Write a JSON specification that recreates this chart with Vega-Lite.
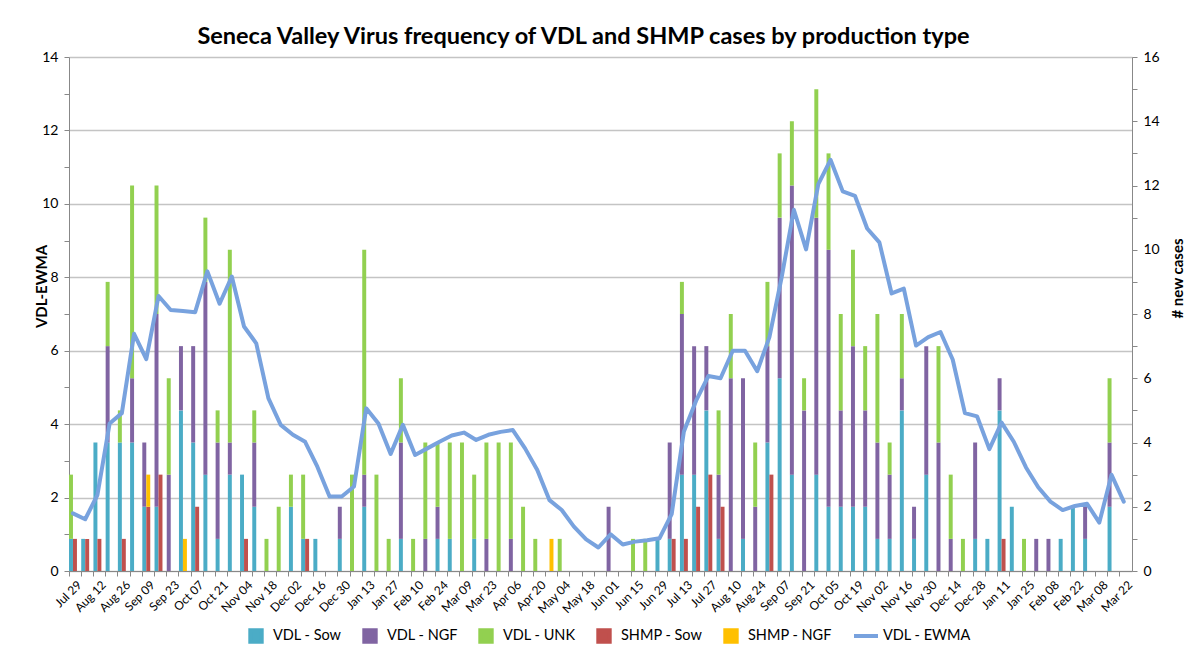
{
  "$schema": "https://vega.github.io/schema/vega-lite/v6.json",
  "width": 1063,
  "height": 514,
  "autosize": {"type": "none"},
  "padding": {"left": 69, "top": 57, "right": 58, "bottom": 83},
  "background": "white",
  "config": {
    "view": {"stroke": null},
    "font": "Lato",
    "axis": {"labelFont": "Lato", "labelColor": "#000", "titleFont": "Lato", "titleColor": "#000", "domainColor": "#888", "tickColor": "#888", "tickSize": 5, "gridColor": "#c4c4c4", "gridWidth": 1.5}
  },
  "title": {"text": "Seneca Valley Virus frequency of VDL and SHMP cases by production type", "font": "Lato", "fontSize": 23.5, "fontWeight": "bold", "color": "#000", "anchor": "middle", "frame": "group", "dx": -17, "offset": 2},
  "datasets": {
    "bars": [
      {"w":"2015-07-29","s":"VDL","t":"VDL - Sow","k":1,"n":1},{"w":"2015-07-29","s":"VDL","t":"VDL - UNK","k":3,"n":2},{"w":"2015-07-29","s":"SHMP","t":"SHMP - Sow","k":1,"n":1},
      {"w":"2015-08-05","s":"VDL","t":"VDL - Sow","k":1,"n":1},{"w":"2015-08-05","s":"SHMP","t":"SHMP - Sow","k":1,"n":1},
      {"w":"2015-08-12","s":"VDL","t":"VDL - Sow","k":1,"n":4},{"w":"2015-08-12","s":"SHMP","t":"SHMP - Sow","k":1,"n":1},
      {"w":"2015-08-19","s":"VDL","t":"VDL - Sow","k":1,"n":4},{"w":"2015-08-19","s":"VDL","t":"VDL - NGF","k":2,"n":3},{"w":"2015-08-19","s":"VDL","t":"VDL - UNK","k":3,"n":2},
      {"w":"2015-08-26","s":"VDL","t":"VDL - Sow","k":1,"n":4},{"w":"2015-08-26","s":"VDL","t":"VDL - UNK","k":3,"n":1},{"w":"2015-08-26","s":"SHMP","t":"SHMP - Sow","k":1,"n":1},
      {"w":"2015-09-02","s":"VDL","t":"VDL - Sow","k":1,"n":4},{"w":"2015-09-02","s":"VDL","t":"VDL - NGF","k":2,"n":2},{"w":"2015-09-02","s":"VDL","t":"VDL - UNK","k":3,"n":6},
      {"w":"2015-09-09","s":"VDL","t":"VDL - Sow","k":1,"n":2},{"w":"2015-09-09","s":"VDL","t":"VDL - NGF","k":2,"n":2},{"w":"2015-09-09","s":"SHMP","t":"SHMP - Sow","k":1,"n":2},{"w":"2015-09-09","s":"SHMP","t":"SHMP - NGF","k":2,"n":1},
      {"w":"2015-09-16","s":"VDL","t":"VDL - Sow","k":1,"n":2},{"w":"2015-09-16","s":"VDL","t":"VDL - NGF","k":2,"n":6},{"w":"2015-09-16","s":"VDL","t":"VDL - UNK","k":3,"n":4},{"w":"2015-09-16","s":"SHMP","t":"SHMP - Sow","k":1,"n":3},
      {"w":"2015-09-23","s":"VDL","t":"VDL - NGF","k":2,"n":3},{"w":"2015-09-23","s":"VDL","t":"VDL - UNK","k":3,"n":3},
      {"w":"2015-09-30","s":"VDL","t":"VDL - Sow","k":1,"n":5},{"w":"2015-09-30","s":"VDL","t":"VDL - NGF","k":2,"n":2},{"w":"2015-09-30","s":"SHMP","t":"SHMP - NGF","k":2,"n":1},
      {"w":"2015-10-07","s":"VDL","t":"VDL - Sow","k":1,"n":4},{"w":"2015-10-07","s":"VDL","t":"VDL - NGF","k":2,"n":3},{"w":"2015-10-07","s":"SHMP","t":"SHMP - Sow","k":1,"n":2},
      {"w":"2015-10-14","s":"VDL","t":"VDL - Sow","k":1,"n":3},{"w":"2015-10-14","s":"VDL","t":"VDL - NGF","k":2,"n":6},{"w":"2015-10-14","s":"VDL","t":"VDL - UNK","k":3,"n":2},
      {"w":"2015-10-21","s":"VDL","t":"VDL - Sow","k":1,"n":1},{"w":"2015-10-21","s":"VDL","t":"VDL - NGF","k":2,"n":3},{"w":"2015-10-21","s":"VDL","t":"VDL - UNK","k":3,"n":1},
      {"w":"2015-10-28","s":"VDL","t":"VDL - Sow","k":1,"n":3},{"w":"2015-10-28","s":"VDL","t":"VDL - NGF","k":2,"n":1},{"w":"2015-10-28","s":"VDL","t":"VDL - UNK","k":3,"n":6},
      {"w":"2015-11-04","s":"VDL","t":"VDL - Sow","k":1,"n":3},{"w":"2015-11-04","s":"SHMP","t":"SHMP - Sow","k":1,"n":1},
      {"w":"2015-11-11","s":"VDL","t":"VDL - Sow","k":1,"n":2},{"w":"2015-11-11","s":"VDL","t":"VDL - NGF","k":2,"n":2},{"w":"2015-11-11","s":"VDL","t":"VDL - UNK","k":3,"n":1},
      {"w":"2015-11-18","s":"VDL","t":"VDL - UNK","k":3,"n":1},
      {"w":"2015-11-25","s":"VDL","t":"VDL - UNK","k":3,"n":2},
      {"w":"2015-12-02","s":"VDL","t":"VDL - Sow","k":1,"n":2},{"w":"2015-12-02","s":"VDL","t":"VDL - UNK","k":3,"n":1},
      {"w":"2015-12-09","s":"VDL","t":"VDL - Sow","k":1,"n":1},{"w":"2015-12-09","s":"VDL","t":"VDL - UNK","k":3,"n":2},{"w":"2015-12-09","s":"SHMP","t":"SHMP - Sow","k":1,"n":1},
      {"w":"2015-12-16","s":"VDL","t":"VDL - Sow","k":1,"n":1},
      {"w":"2015-12-30","s":"VDL","t":"VDL - Sow","k":1,"n":1},{"w":"2015-12-30","s":"VDL","t":"VDL - NGF","k":2,"n":1},
      {"w":"2016-01-06","s":"VDL","t":"VDL - UNK","k":3,"n":3},
      {"w":"2016-01-13","s":"VDL","t":"VDL - Sow","k":1,"n":2},{"w":"2016-01-13","s":"VDL","t":"VDL - NGF","k":2,"n":1},{"w":"2016-01-13","s":"VDL","t":"VDL - UNK","k":3,"n":7},
      {"w":"2016-01-20","s":"VDL","t":"VDL - UNK","k":3,"n":3},
      {"w":"2016-01-27","s":"VDL","t":"VDL - UNK","k":3,"n":1},
      {"w":"2016-02-03","s":"VDL","t":"VDL - Sow","k":1,"n":1},{"w":"2016-02-03","s":"VDL","t":"VDL - NGF","k":2,"n":3},{"w":"2016-02-03","s":"VDL","t":"VDL - UNK","k":3,"n":2},
      {"w":"2016-02-10","s":"VDL","t":"VDL - UNK","k":3,"n":1},
      {"w":"2016-02-17","s":"VDL","t":"VDL - NGF","k":2,"n":1},{"w":"2016-02-17","s":"VDL","t":"VDL - UNK","k":3,"n":3},
      {"w":"2016-02-24","s":"VDL","t":"VDL - Sow","k":1,"n":1},{"w":"2016-02-24","s":"VDL","t":"VDL - NGF","k":2,"n":1},{"w":"2016-02-24","s":"VDL","t":"VDL - UNK","k":3,"n":2},
      {"w":"2016-03-02","s":"VDL","t":"VDL - Sow","k":1,"n":1},{"w":"2016-03-02","s":"VDL","t":"VDL - UNK","k":3,"n":3},
      {"w":"2016-03-09","s":"VDL","t":"VDL - UNK","k":3,"n":4},
      {"w":"2016-03-16","s":"VDL","t":"VDL - Sow","k":1,"n":1},{"w":"2016-03-16","s":"VDL","t":"VDL - UNK","k":3,"n":2},
      {"w":"2016-03-23","s":"VDL","t":"VDL - NGF","k":2,"n":1},{"w":"2016-03-23","s":"VDL","t":"VDL - UNK","k":3,"n":3},
      {"w":"2016-03-30","s":"VDL","t":"VDL - UNK","k":3,"n":4},
      {"w":"2016-04-06","s":"VDL","t":"VDL - NGF","k":2,"n":1},{"w":"2016-04-06","s":"VDL","t":"VDL - UNK","k":3,"n":3},
      {"w":"2016-04-13","s":"VDL","t":"VDL - UNK","k":3,"n":2},
      {"w":"2016-04-20","s":"VDL","t":"VDL - UNK","k":3,"n":1},
      {"w":"2016-04-27","s":"SHMP","t":"SHMP - NGF","k":2,"n":1},
      {"w":"2016-05-04","s":"VDL","t":"VDL - UNK","k":3,"n":1},
      {"w":"2016-06-01","s":"VDL","t":"VDL - NGF","k":2,"n":2},
      {"w":"2016-06-15","s":"VDL","t":"VDL - UNK","k":3,"n":1},
      {"w":"2016-06-22","s":"VDL","t":"VDL - UNK","k":3,"n":1},
      {"w":"2016-06-29","s":"VDL","t":"VDL - Sow","k":1,"n":1},
      {"w":"2016-07-06","s":"VDL","t":"VDL - Sow","k":1,"n":1},{"w":"2016-07-06","s":"VDL","t":"VDL - NGF","k":2,"n":3},{"w":"2016-07-06","s":"SHMP","t":"SHMP - Sow","k":1,"n":1},
      {"w":"2016-07-13","s":"VDL","t":"VDL - Sow","k":1,"n":3},{"w":"2016-07-13","s":"VDL","t":"VDL - NGF","k":2,"n":5},{"w":"2016-07-13","s":"VDL","t":"VDL - UNK","k":3,"n":1},{"w":"2016-07-13","s":"SHMP","t":"SHMP - Sow","k":1,"n":1},
      {"w":"2016-07-20","s":"VDL","t":"VDL - Sow","k":1,"n":3},{"w":"2016-07-20","s":"VDL","t":"VDL - NGF","k":2,"n":4},{"w":"2016-07-20","s":"SHMP","t":"SHMP - Sow","k":1,"n":2},
      {"w":"2016-07-27","s":"VDL","t":"VDL - Sow","k":1,"n":5},{"w":"2016-07-27","s":"VDL","t":"VDL - NGF","k":2,"n":2},{"w":"2016-07-27","s":"SHMP","t":"SHMP - Sow","k":1,"n":3},
      {"w":"2016-08-03","s":"VDL","t":"VDL - Sow","k":1,"n":1},{"w":"2016-08-03","s":"VDL","t":"VDL - NGF","k":2,"n":2},{"w":"2016-08-03","s":"VDL","t":"VDL - UNK","k":3,"n":2},{"w":"2016-08-03","s":"SHMP","t":"SHMP - Sow","k":1,"n":2},
      {"w":"2016-08-10","s":"VDL","t":"VDL - NGF","k":2,"n":6},{"w":"2016-08-10","s":"VDL","t":"VDL - UNK","k":3,"n":2},
      {"w":"2016-08-17","s":"VDL","t":"VDL - Sow","k":1,"n":1},{"w":"2016-08-17","s":"VDL","t":"VDL - NGF","k":2,"n":5},
      {"w":"2016-08-24","s":"VDL","t":"VDL - NGF","k":2,"n":2},{"w":"2016-08-24","s":"VDL","t":"VDL - UNK","k":3,"n":2},
      {"w":"2016-08-31","s":"VDL","t":"VDL - Sow","k":1,"n":4},{"w":"2016-08-31","s":"VDL","t":"VDL - NGF","k":2,"n":3},{"w":"2016-08-31","s":"VDL","t":"VDL - UNK","k":3,"n":2},{"w":"2016-08-31","s":"SHMP","t":"SHMP - Sow","k":1,"n":3},
      {"w":"2016-09-07","s":"VDL","t":"VDL - Sow","k":1,"n":6},{"w":"2016-09-07","s":"VDL","t":"VDL - NGF","k":2,"n":5},{"w":"2016-09-07","s":"VDL","t":"VDL - UNK","k":3,"n":2},
      {"w":"2016-09-14","s":"VDL","t":"VDL - Sow","k":1,"n":3},{"w":"2016-09-14","s":"VDL","t":"VDL - NGF","k":2,"n":9},{"w":"2016-09-14","s":"VDL","t":"VDL - UNK","k":3,"n":2},
      {"w":"2016-09-21","s":"VDL","t":"VDL - NGF","k":2,"n":5},{"w":"2016-09-21","s":"VDL","t":"VDL - UNK","k":3,"n":1},
      {"w":"2016-09-28","s":"VDL","t":"VDL - Sow","k":1,"n":3},{"w":"2016-09-28","s":"VDL","t":"VDL - NGF","k":2,"n":8},{"w":"2016-09-28","s":"VDL","t":"VDL - UNK","k":3,"n":4},
      {"w":"2016-10-05","s":"VDL","t":"VDL - Sow","k":1,"n":2},{"w":"2016-10-05","s":"VDL","t":"VDL - NGF","k":2,"n":8},{"w":"2016-10-05","s":"VDL","t":"VDL - UNK","k":3,"n":3},
      {"w":"2016-10-12","s":"VDL","t":"VDL - Sow","k":1,"n":2},{"w":"2016-10-12","s":"VDL","t":"VDL - NGF","k":2,"n":3},{"w":"2016-10-12","s":"VDL","t":"VDL - UNK","k":3,"n":3},
      {"w":"2016-10-19","s":"VDL","t":"VDL - Sow","k":1,"n":2},{"w":"2016-10-19","s":"VDL","t":"VDL - NGF","k":2,"n":5},{"w":"2016-10-19","s":"VDL","t":"VDL - UNK","k":3,"n":3},
      {"w":"2016-10-26","s":"VDL","t":"VDL - Sow","k":1,"n":2},{"w":"2016-10-26","s":"VDL","t":"VDL - NGF","k":2,"n":3},{"w":"2016-10-26","s":"VDL","t":"VDL - UNK","k":3,"n":2},
      {"w":"2016-11-02","s":"VDL","t":"VDL - Sow","k":1,"n":1},{"w":"2016-11-02","s":"VDL","t":"VDL - NGF","k":2,"n":3},{"w":"2016-11-02","s":"VDL","t":"VDL - UNK","k":3,"n":4},
      {"w":"2016-11-09","s":"VDL","t":"VDL - Sow","k":1,"n":1},{"w":"2016-11-09","s":"VDL","t":"VDL - NGF","k":2,"n":2},{"w":"2016-11-09","s":"VDL","t":"VDL - UNK","k":3,"n":1},
      {"w":"2016-11-16","s":"VDL","t":"VDL - Sow","k":1,"n":5},{"w":"2016-11-16","s":"VDL","t":"VDL - NGF","k":2,"n":1},{"w":"2016-11-16","s":"VDL","t":"VDL - UNK","k":3,"n":2},
      {"w":"2016-11-23","s":"VDL","t":"VDL - Sow","k":1,"n":1},{"w":"2016-11-23","s":"VDL","t":"VDL - NGF","k":2,"n":1},
      {"w":"2016-11-30","s":"VDL","t":"VDL - Sow","k":1,"n":3},{"w":"2016-11-30","s":"VDL","t":"VDL - NGF","k":2,"n":4},
      {"w":"2016-12-07","s":"VDL","t":"VDL - NGF","k":2,"n":4},{"w":"2016-12-07","s":"VDL","t":"VDL - UNK","k":3,"n":3},
      {"w":"2016-12-14","s":"VDL","t":"VDL - NGF","k":2,"n":1},{"w":"2016-12-14","s":"VDL","t":"VDL - UNK","k":3,"n":2},
      {"w":"2016-12-21","s":"VDL","t":"VDL - UNK","k":3,"n":1},
      {"w":"2016-12-28","s":"VDL","t":"VDL - Sow","k":1,"n":1},{"w":"2016-12-28","s":"VDL","t":"VDL - NGF","k":2,"n":3},
      {"w":"2017-01-04","s":"VDL","t":"VDL - Sow","k":1,"n":1},
      {"w":"2017-01-11","s":"VDL","t":"VDL - Sow","k":1,"n":5},{"w":"2017-01-11","s":"VDL","t":"VDL - NGF","k":2,"n":1},{"w":"2017-01-11","s":"SHMP","t":"SHMP - Sow","k":1,"n":1},
      {"w":"2017-01-18","s":"VDL","t":"VDL - Sow","k":1,"n":2},
      {"w":"2017-01-25","s":"VDL","t":"VDL - UNK","k":3,"n":1},
      {"w":"2017-02-01","s":"VDL","t":"VDL - NGF","k":2,"n":1},
      {"w":"2017-02-08","s":"VDL","t":"VDL - NGF","k":2,"n":1},
      {"w":"2017-02-15","s":"VDL","t":"VDL - Sow","k":1,"n":1},
      {"w":"2017-02-22","s":"VDL","t":"VDL - Sow","k":1,"n":2},
      {"w":"2017-03-01","s":"VDL","t":"VDL - Sow","k":1,"n":1},{"w":"2017-03-01","s":"VDL","t":"VDL - NGF","k":2,"n":1},
      {"w":"2017-03-15","s":"VDL","t":"VDL - Sow","k":1,"n":2},{"w":"2017-03-15","s":"VDL","t":"VDL - NGF","k":2,"n":2},{"w":"2017-03-15","s":"VDL","t":"VDL - UNK","k":3,"n":2}
    ],
    "ewma": [
      {"w":"2015-07-29","v":1.57},{"w":"2015-08-05","v":1.41},{"w":"2015-08-12","v":2.07},{"w":"2015-08-19","v":4.02},{"w":"2015-08-26","v":4.30},
      {"w":"2015-09-02","v":6.46},{"w":"2015-09-09","v":5.77},{"w":"2015-09-16","v":7.49},{"w":"2015-09-23","v":7.11},{"w":"2015-09-30","v":7.08},
      {"w":"2015-10-07","v":7.05},{"w":"2015-10-14","v":8.16},{"w":"2015-10-21","v":7.28},{"w":"2015-10-28","v":8.02},{"w":"2015-11-04","v":6.66},
      {"w":"2015-11-11","v":6.20},{"w":"2015-11-18","v":4.70},{"w":"2015-11-25","v":3.98},{"w":"2015-12-02","v":3.71},{"w":"2015-12-09","v":3.52},
      {"w":"2015-12-16","v":2.84},{"w":"2015-12-23","v":2.03},{"w":"2015-12-30","v":2.03},{"w":"2016-01-06","v":2.30},{"w":"2016-01-13","v":4.43},
      {"w":"2016-01-20","v":4.02},{"w":"2016-01-27","v":3.19},{"w":"2016-02-03","v":3.98},{"w":"2016-02-10","v":3.16},{"w":"2016-02-17","v":3.34},
      {"w":"2016-02-24","v":3.52},{"w":"2016-03-02","v":3.69},{"w":"2016-03-09","v":3.77},{"w":"2016-03-16","v":3.57},{"w":"2016-03-23","v":3.71},
      {"w":"2016-03-30","v":3.79},{"w":"2016-04-06","v":3.84},{"w":"2016-04-13","v":3.34},{"w":"2016-04-20","v":2.75},{"w":"2016-04-27","v":1.93},
      {"w":"2016-05-04","v":1.66},{"w":"2016-05-11","v":1.21},{"w":"2016-05-18","v":0.86},{"w":"2016-05-25","v":0.64},{"w":"2016-06-01","v":1.00},
      {"w":"2016-06-08","v":0.72},{"w":"2016-06-15","v":0.80},{"w":"2016-06-22","v":0.84},{"w":"2016-06-29","v":0.89},{"w":"2016-07-06","v":1.55},
      {"w":"2016-07-13","v":3.80},{"w":"2016-07-20","v":4.64},{"w":"2016-07-27","v":5.31},{"w":"2016-08-03","v":5.25},{"w":"2016-08-10","v":6.00},
      {"w":"2016-08-17","v":6.00},{"w":"2016-08-24","v":5.44},{"w":"2016-08-31","v":6.37},{"w":"2016-09-07","v":8.00},{"w":"2016-09-14","v":9.84},
      {"w":"2016-09-21","v":8.76},{"w":"2016-09-28","v":10.54},{"w":"2016-10-05","v":11.20},{"w":"2016-10-12","v":10.34},{"w":"2016-10-19","v":10.22},
      {"w":"2016-10-26","v":9.33},{"w":"2016-11-02","v":8.95},{"w":"2016-11-09","v":7.56},{"w":"2016-11-16","v":7.69},{"w":"2016-11-23","v":6.14},
      {"w":"2016-11-30","v":6.37},{"w":"2016-12-07","v":6.51},{"w":"2016-12-14","v":5.76},{"w":"2016-12-21","v":4.30},{"w":"2016-12-28","v":4.21},
      {"w":"2017-01-04","v":3.32},{"w":"2017-01-11","v":4.04},{"w":"2017-01-18","v":3.52},{"w":"2017-01-25","v":2.82},{"w":"2017-02-01","v":2.28},
      {"w":"2017-02-08","v":1.89},{"w":"2017-02-15","v":1.66},{"w":"2017-02-22","v":1.77},{"w":"2017-03-01","v":1.83},{"w":"2017-03-08","v":1.32},
      {"w":"2017-03-15","v":2.62},{"w":"2017-03-22","v":1.89}
    ]
  },
  "layer": [
    {
      "data": {"name": "bars"},
      "mark": {"type": "bar"},
      "encoding": {
        "x": {
          "field": "w", "type": "ordinal",
          "scale": {"paddingInner": 0.35, "paddingOuter": 0.175, "align": 0},
          "axis": {
            "title": null, "bandPosition": 0, "labelAngle": -45, "labelFontSize": 12, "labelOffset": 3, "labelPadding": 3,
            "labelExpr": "round((toDate(datum.value) - toDate('2015-07-29')) / 604800000) % 2 === 0 ? utcFormat(toDate(datum.value), '%b %d') : ''",
            "grid": false
          }
        },
        "xOffset": {"field": "s", "type": "nominal", "scale": {"domain": ["VDL", "SHMP"], "paddingInner": 0, "paddingOuter": 0}},
        "y": {
          "field": "n", "type": "quantitative", "stack": "zero",
          "scale": {"domain": [0, 16], "nice": false},
          "axis": {
            "orient": "right", "title": "# new cases", "titleFontSize": 15, "titleFontWeight": "bold", "titleAngle": 270,
            "titleBaseline": "middle", "titleX": 45, "titleY": 221,
            "values": [0,1,2,3,4,5,6,7,8,9,10,11,12,13,14,15,16],
            "labelExpr": "datum.value % 2 === 0 ? datum.label : ''",
            "labelFontSize": 14, "labelPadding": 6, "grid": false
          }
        },
        "color": {
          "field": "t", "type": "nominal",
          "scale": {
            "domain": ["VDL - Sow", "VDL - NGF", "VDL - UNK", "SHMP - Sow", "SHMP - NGF", "VDL - EWMA"],
            "range": ["#4BACC6", "#8064A2", "#92D050", "#C0504D", "#FFC000", "#78A2DE"]
          },
          "legend": {
            "orient": "none", "legendX": 179, "legendY": 571, "direction": "horizontal", "title": null,
            "labelFontSize": 14.5, "labelFont": "Lato", "labelColor": "#000", "gridAlign": "none",
            "symbolSize": 130, "symbolType": "square", "columnPadding": 14, "labelOffset": 9,
            "encode": {
              "symbols": {
                "update": {
                  "shape": {"signal": "datum.value === 'VDL - EWMA' ? 'stroke' : 'square'"},
                  "size": {"signal": "datum.value === 'VDL - EWMA' ? 576 : 130"},
                  "stroke": {"signal": "datum.value === 'VDL - EWMA' ? '#78A2DE' : 'transparent'"},
                  "strokeWidth": {"value": 4}
                }
              }
            }
          }
        },
        "order": {"field": "k", "type": "quantitative"}
      }
    },
    {
      "data": {"name": "ewma"},
      "mark": {"type": "line", "strokeWidth": 4, "strokeJoin": "round", "strokeCap": "round"},
      "encoding": {
        "x": {"field": "w", "type": "ordinal"},
        "y": {
          "field": "v", "type": "quantitative",
          "scale": {"domain": [0, 14], "nice": false},
          "axis": {
            "orient": "left", "title": "VDL-EWMA", "titleFontSize": 15, "titleFontWeight": "bold",
            "titleBaseline": "middle", "titleX": -28, "titleY": 229,
            "values": [0,1,2,3,4,5,6,7,8,9,10,11,12,13,14],
            "labelExpr": "datum.value % 2 === 0 ? datum.label : ''",
            "labelFontSize": 14, "labelPadding": 6,
            "grid": true,
            "gridOpacity": {"condition": {"test": "datum.value % 2 !== 0", "value": 0}, "value": 1}
          }
        },
        "color": {"datum": "VDL - EWMA"}
      }
    }
  ],
  "resolve": {"scale": {"y": "independent"}}
}
